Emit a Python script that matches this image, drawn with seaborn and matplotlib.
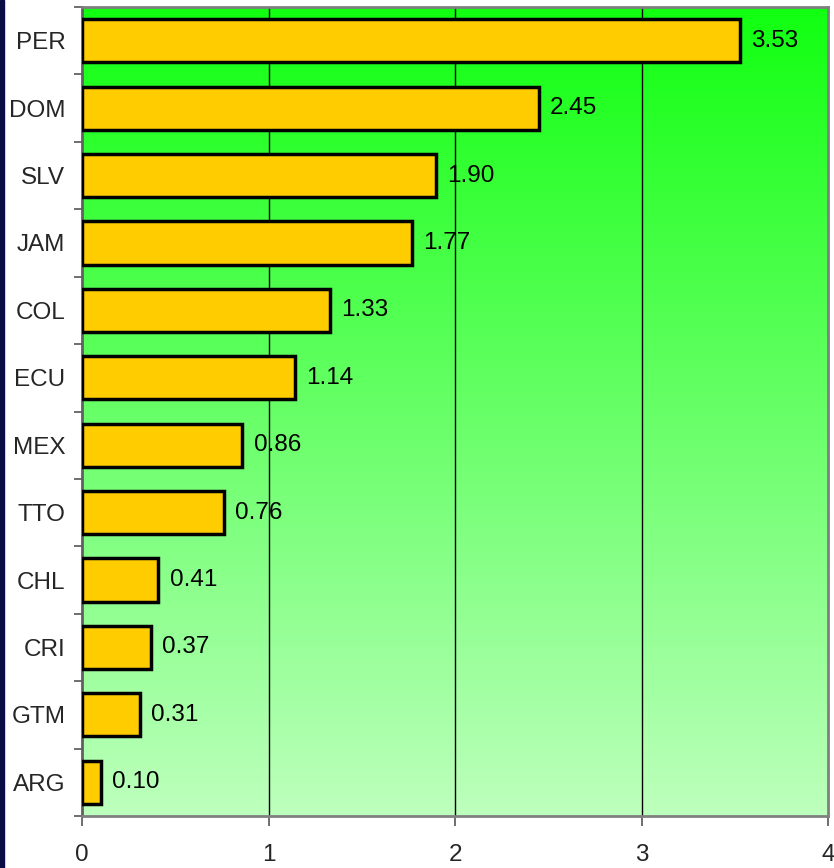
import numpy as np
import pandas as pd
import matplotlib
matplotlib.use("Agg")
import matplotlib.pyplot as plt
import seaborn as sns
from matplotlib.patches import Rectangle

countries = ["PER", "DOM", "SLV", "JAM", "COL", "ECU", "MEX", "TTO", "CHL", "CRI", "GTM", "ARG"]
values = [3.53, 2.45, 1.90, 1.77, 1.33, 1.14, 0.86, 0.76, 0.41, 0.37, 0.31, 0.10]
xticks = [0, 1, 2, 3, 4]

sns.set_theme(style="white")
plt.rcParams['font.family'] = ['Liberation Sans', 'DejaVu Sans']
FS = 17.5

W, H = 834, 868
fig = plt.figure(figsize=(W / 100, H / 100), dpi=100)
fig.patch.set_facecolor("white")
ax = fig.add_axes([82 / W, 1 - 816 / H, (828 - 82) / W, (816 - 7) / H])

# gradient background
top = np.array([0x11, 0xFF, 0x11]) / 255
bot = np.array([0xBD, 0xFF, 0xBD]) / 255
t = np.linspace(0, 1, 256)[:, None]
grad = top[None, :] * (1 - t) + bot[None, :] * t
img = np.repeat(grad[:, None, :], 2, axis=1)
ax.imshow(img, extent=[0, 1, 0, 1], transform=ax.transAxes, aspect="auto",
          zorder=-10, interpolation="bilinear")

df = pd.DataFrame({"country": countries, "value": values})
sns.barplot(data=df, y="country", x="value", orient="h", color="#FFCC00",
            saturation=1, edgecolor="black", linewidth=2.5, width=0.64, ax=ax, zorder=3)

for i, v in enumerate(values):
    ax.text(v + 0.06, i, f"{v:.2f}", va="center", ha="left", fontsize=FS,
            color="black", zorder=4)

ax.set_xlim(0, 4)
ax.set_ylim(len(countries) - 0.5, -0.5)
ax.set_xticks(xticks)
ax.set_xticklabels([str(x) for x in xticks], fontsize=FS)
ax.set_xlabel("")
ax.set_ylabel("")
ax.tick_params(axis="y", which="major", length=0, labelsize=FS, pad=12)
ax.set_yticks(np.arange(-0.5, len(countries), 1.0), minor=True)
ax.tick_params(axis="y", which="minor", length=6, width=1.2, color="#555555", left=True)
ax.tick_params(axis="x", which="major", length=7, width=1.2, color="#555555", pad=13, bottom=True)

ax.grid(False)
for x in xticks[1:-1]:
    ax.axvline(x, color="black", linewidth=1, zorder=1)

for side in ["top", "right", "left", "bottom"]:
    ax.spines[side].set_visible(True)
    ax.spines[side].set_color("#808080")
    ax.spines[side].set_linewidth(2)
ax.spines["left"].set_color("#606060")

fig.patches.append(Rectangle((0, 0), 4 / W, 1, transform=fig.transFigure,
                             color="#0b0b45", zorder=5))

fig.savefig("out.png", dpi=100)
